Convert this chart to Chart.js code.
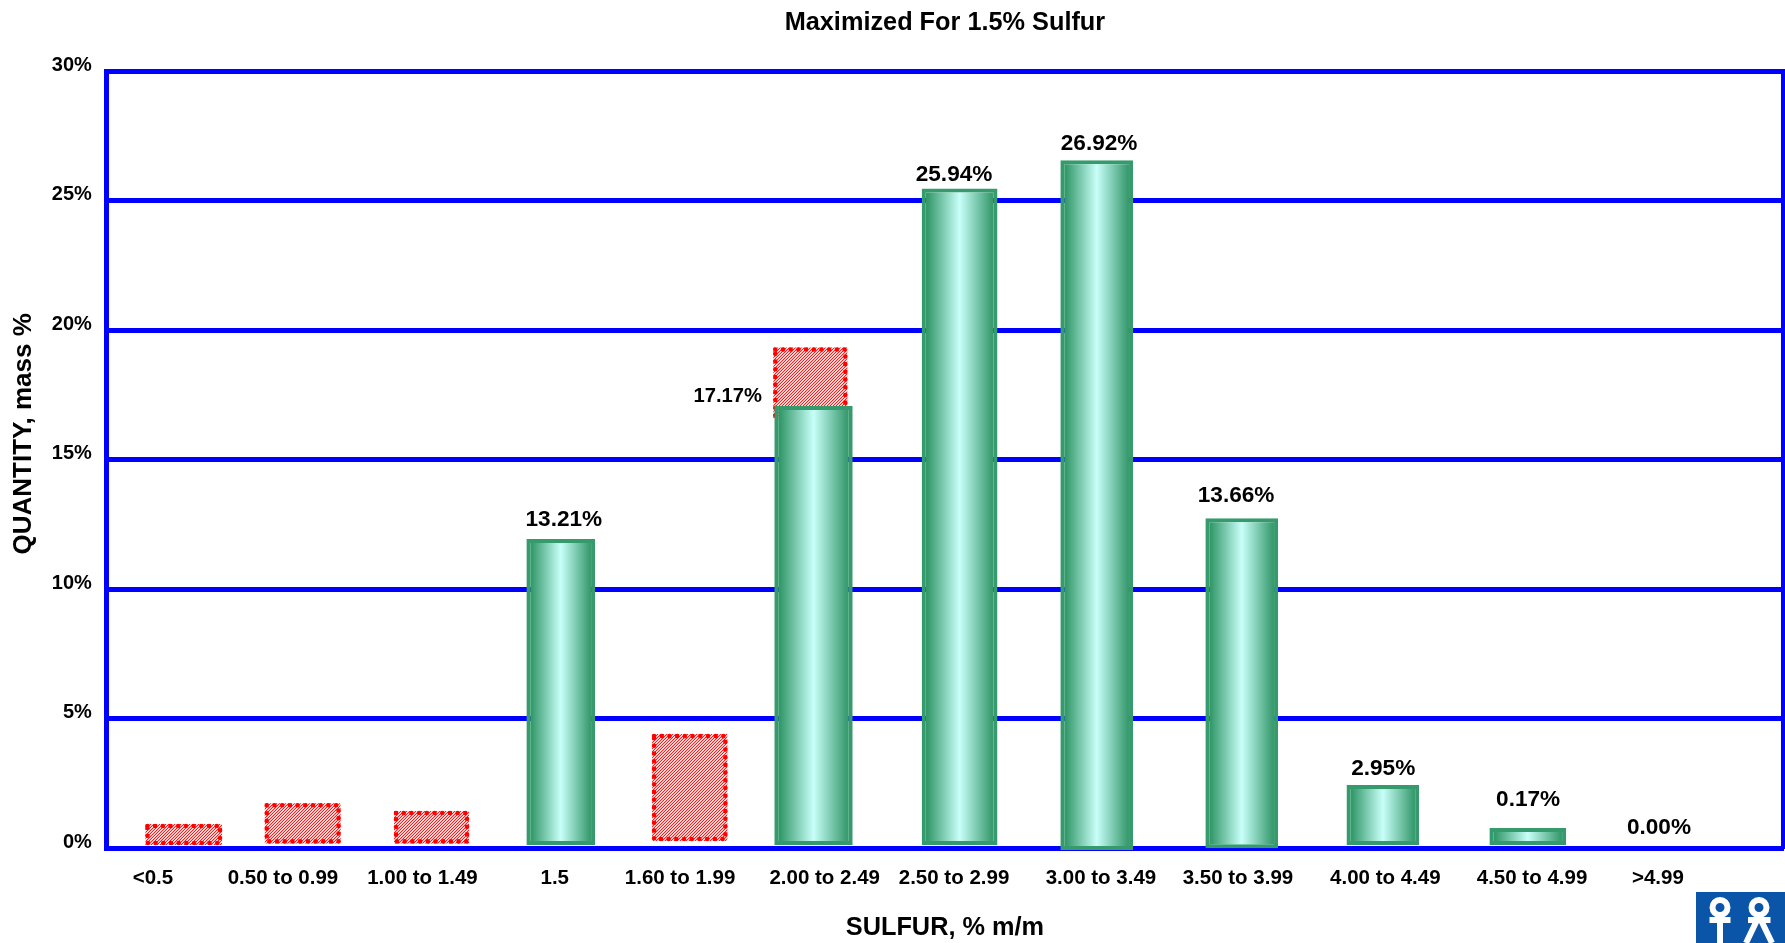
<!DOCTYPE html>
<html>
<head>
<meta charset="utf-8">
<style>html,body{margin:0;padding:0;background:#fff}canvas{display:block}</style>
<script src="https://cdn.jsdelivr.net/npm/chart.js@4"></script>
</head>
<body>
<canvas id="c" width="1785" height="943"></canvas>
<script>
// ---- data ----
const categories = ['<0.5','0.50 to 0.99','1.00 to 1.49','1.5','1.60 to 1.99','2.00 to 2.49','2.50 to 2.99','3.00 to 3.49','3.50 to 3.99','4.00 to 4.49','4.50 to 4.99','>4.99'];
const yTicks = [0,5,10,15,20,25,30];

// green bars: 1.5, 2.00-2.49 ... 4.50-4.99 (the picture draws them floating just off the axis)
const greenTop  = [11.94,17.08,25.48,26.57,12.74,2.44,0.78];
const greenBase = [0.13,0.13,0.13,-0.07,0,0.13,0.13];
// red hatched bars: <0.5, 0.50-0.99, 1.00-1.49, 1.60-1.99, 2.00-2.49
const redTop  = [0.94,1.74,1.44,4.41,19.34];
const redBase = [0.13,0.19,0.19,0.28,16.6];

const valueLabels = ['17.17%','13.21%','25.94%','26.92%','13.66%','2.95%','0.17%','0.00%'];

// ---- hand-placed positions of the original slide, in x-axis slot units ----
const tickSlots  = [0.391,1.493,2.675,3.796,4.858,6.084,7.18,8.425,9.586,10.835,12.078,13.145];
const greenSlots = [3.847,5.989,7.227,8.389,9.618,10.814,12.042];
const redSlots   = [0.652,1.660,2.752,4.940,5.962];
const labelSlots = [5.262,3.873,7.180,8.409,9.57,10.817,12.045,13.154];
const labelLevels= [17.44,12.68,26.0,27.22,13.6,3.08,1.88,0.81];
const labelSizes = [20.2,22.6,22.6,22.6,22.6,22.6,22.6,22.6];
const greenWidths= [68.7,78.4,75.8,72.7,72.7,72.7,76.7];
const redWidths  = [76.6,75.8,75,75.3,74];

const FONT = '"Liberation Sans", Arial, sans-serif';
const BLUE = '#0000ff';

function hatch(){
  const p = document.createElement('canvas'); p.width = p.height = 3;
  const g = p.getContext('2d');
  g.fillStyle = '#ffd0d0'; g.fillRect(0,0,3,3);
  g.fillStyle = '#ff1a1a';
  for (let i=0;i<3;i++){ g.fillRect(i,(5-i)%3,1,1); }
  return document.getElementById('c').getContext('2d').createPattern(p,'repeat');
}
function greenFill(ctx){
  const i = ctx.dataIndex, c = ctx.chart;
  if (i === undefined || !c.scales.x) return '#8fd8bd';
  const px = c.scales.x.getPixelForValue(greenSlots[i]), w = greenWidths[i]/2;
  if (!isFinite(px)) return '#8fd8bd';
  const g = c.ctx.createLinearGradient(px-w,0,px+w,0);
  g.addColorStop(0,'#2f9668');
  g.addColorStop(0.08,'#359a6c');
  g.addColorStop(0.5,'#c8fff9');
  g.addColorStop(0.92,'#3a9c70');
  g.addColorStop(1,'#359a6c');
  return g;
}

const sizeAndDetail = {
  id:'sizeAndDetail',
  afterLayout(chart){
    // centre the title over the plot, push the y title up as on the slide
    chart.titleBlock.left = chart.chartArea.left;
    chart.titleBlock.right = chart.chartArea.right;
    chart.scales.yTitleAxis.bottom -= 52;
  },
  afterDatasetsUpdate(chart){
    chart.getDatasetMeta(0).data.forEach((el,i)=>{ el.width = greenWidths[i]; });
    chart.getDatasetMeta(1).data.forEach((el,i)=>{ el.width = redWidths[i]; });
  },
  afterDatasetDraw(chart,args){
    if (args.index !== 1) return;
    const g = chart.ctx;
    g.save();
    g.strokeStyle = '#ff0000'; g.lineWidth = 4.6; g.lineCap = 'round';
    g.setLineDash([0,7.7]);
    args.meta.data.forEach(el=>{
      g.beginPath();
      g.rect(el.x-el.width/2+2, el.y+2, el.width-4, el.base-el.y-4);
      g.stroke();
    });
    g.restore();
  },
  afterDraw(chart){
    const g = chart.ctx, {x,y} = chart.scales;
    g.save();
    g.fillStyle = '#000'; g.textAlign = 'center'; g.textBaseline = 'middle';
    valueLabels.forEach((t,i)=>{
      g.font = `bold ${labelSizes[i]}px ${FONT}`;
      g.fillText(t, x.getPixelForValue(labelSlots[i]), y.getPixelForValue(labelLevels[i]));
    });
    // logo
    g.fillStyle = '#0b55a8'; g.fillRect(1696,892,89,51);
    g.strokeStyle = '#fff'; g.lineWidth = 6;
    [1720,1759].forEach(cx=>{
      g.beginPath(); g.arc(cx,907.5,7.5,0,Math.PI*2); g.stroke();
    });
    g.beginPath();
    g.moveTo(1709.5,920); g.lineTo(1730.5,920);
    g.moveTo(1720,916); g.lineTo(1720,943);
    g.moveTo(1748,920); g.lineTo(1770.5,920);
    g.moveTo(1759,916); g.lineTo(1746,943);
    g.moveTo(1759,916); g.lineTo(1772,943);
    g.stroke();
    g.restore();
  }
};

new Chart(document.getElementById('c'),{
  type:'bar',
  plugins:[sizeAndDetail],
  data:{
    datasets:[
      {label:'Maximized', order:1, clip:false,
       data:greenSlots.map((s,i)=>({x:s,y:[greenBase[i],greenTop[i]]})),
       backgroundColor:greenFill, borderColor:'#359b6c', borderWidth:4, borderSkipped:false, inflateAmount:0,
       barThickness:75, grouped:false},
      {label:'Base', order:2, clip:false,
       data:redSlots.map((s,i)=>({x:s,y:[redBase[i],redTop[i]]})),
       backgroundColor:hatch(), borderWidth:0, borderSkipped:false, inflateAmount:0,
       barThickness:75, grouped:false}
    ]
  },
  options:{
    responsive:false, animation:false,
    layout:{padding:0},
    plugins:{
      legend:{display:false}, tooltip:{enabled:false},
      title:{display:true, text:'Maximized For 1.5% Sulfur', color:'#000',
        font:{family:FONT,size:25.3,weight:'bold'}, padding:{top:8,bottom:33}}
    },
    scales:{
      x:{type:'linear', min:0, max:14.205, offset:false,
        grid:{display:false,drawTicks:false,offset:false},
        border:{color:BLUE,width:5},
        afterBuildTicks(s){ s.ticks = tickSlots.map(v=>({value:v})); },
        afterFit(s){ s.height = 94.7; },
        ticks:{autoSkip:false,maxRotation:0,minRotation:0,padding:18,color:'#000',
          font:{family:FONT,size:20.5,weight:'bold'},
          callback:(v,i)=>categories[i]},
        title:{display:true,text:'SULFUR, % m/m',color:'#000',
          font:{family:FONT,size:25.3,weight:'bold'},padding:{top:0,bottom:0}}
      },
      yTitleAxis:{type:'linear', position:'left', weight:5, min:0, max:30,
        afterFit(s){ s.width = 40; },
        grid:{display:false,drawTicks:false},
        border:{display:false},
        ticks:{display:false},
        title:{display:true,text:'QUANTITY, mass %',color:'#000',
          font:{family:FONT,size:26,weight:'bold'},padding:{top:8,bottom:8}}
      },
      y:{type:'linear', position:'left', weight:1, min:0, max:30,
        afterBuildTicks(s){ s.ticks = yTicks.map(v=>({value:v})); },
        afterFit(s){ s.width = 66.8; },
        grid:{color:BLUE,lineWidth:5,drawTicks:false},
        border:{color:BLUE,width:5},
        ticks:{padding:15,labelOffset:-6,color:'#000',
          font:{family:FONT,size:20,weight:'bold'},
          callback:v=>v+'%'}
      },
      yRight:{type:'linear', position:'right', min:0, max:30,
        afterFit(s){ s.width = 2; },
        grid:{display:false,drawTicks:false},
        border:{color:BLUE,width:5},
        ticks:{display:false}
      }
    }
  }
});
</script>
</body>
</html>
